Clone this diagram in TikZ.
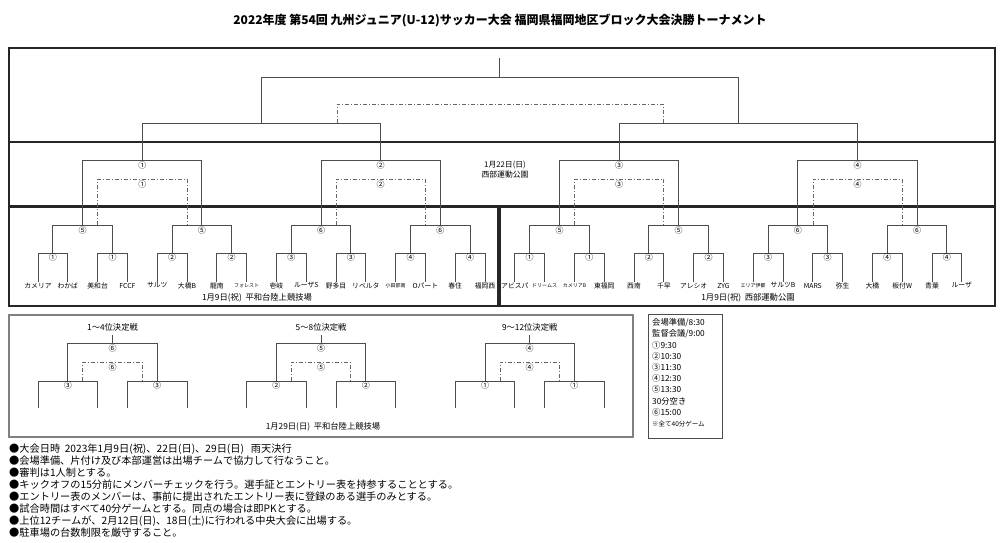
\documentclass[tikz,border=0pt]{standalone}
\usepackage{fontspec}
\setmainfont{Noto Sans CJK JP}
\newcommand\teamsm{\fontsize{5}{6}\selectfont}
\begin{document}
\begin{tikzpicture}[x=1pt,y=-1pt,
    brk/.style={draw=black!70,line width=0.9pt},
    dd/.style={draw=black!60,line width=0.8pt,dash pattern=on 4pt off 2pt on 1pt off 2pt},
    frm/.style={draw=black!85,line width=1.6pt},
    num/.style={font=\fontsize{8}{9}\selectfont,inner sep=0pt},
    team/.style={font=\fontsize{6.8}{7}\selectfont,inner sep=0pt},
    venue/.style={font=\fontsize{8.3}{9}\selectfont,inner sep=0pt}]
    \useasboundingbox (0,0) rectangle (1000,542);
    \node[font=\bfseries\fontsize{12}{14}\selectfont] (title) at (500,20)
        {2022年度 第54回 九州ジュニア(U-12)サッカー大会 福岡県福岡地区ブロック大会決勝トーナメント};
    % frames
    \draw[frm] (9,48) rectangle (995,206);
    \draw[frm] (9,142) -- (995,142);
    \draw[frm] (9,207) rectangle (498,306);
    \draw[frm] (500,207) rectangle (995,306);
    \node[venue,align=center,font=\fontsize{7.8}{9}\selectfont] (day2) at (505,169.5) {1月22日(日)\\[1pt]西部運動公園};
    % first round
    \foreach \k/\n in {0/①,1/①,2/②,3/②,4/③,5/③,6/④,7/④,8/①,9/①,10/②,11/②,12/③,13/③,14/④,15/④}{
      \pgfmathsetmacro\xa{38+59.6*\k}
      \pgfmathsetmacro\xb{\xa+29.8}
      \draw[brk] (\xa,282) |- (\xb,253) -- (\xb,282);
      \node[num] (ra\k) at ({\xa+14.9},257.5) {\n};
    }
    % second round
    \foreach \k/\n in {0/⑤,1/⑤,2/⑥,3/⑥,4/⑤,5/⑤,6/⑥,7/⑥}{
      \pgfmathsetmacro\xa{52.9+119.2*\k}
      \pgfmathsetmacro\xb{\xa+59.6}
      \draw[brk] (\xa,253) |- (\xb,225) -- (\xb,253);
      \node[num] (rb\k) at ({\xa+29.8},230) {\n};
    }
    % third round with the dashed loser bracket
    \foreach \k/\n in {0/①,1/②,2/③,3/④}{
      \pgfmathsetmacro\xa{82.7+238.4*\k}
      \pgfmathsetmacro\xb{\xa+119.2}
      \draw[brk] (\xa,225) |- (\xb,160) -- (\xb,225);
      \draw[dd] ({\xa+15},225) |- ({\xb-15},179) -- ({\xb-15},225);
      \node[num] (rc\k) at ({\xa+59.6},165) {\n};
      \node[num] (rd\k) at ({\xa+59.6},184) {\n};
    }
    \foreach \k in {0,1}{
      \pgfmathsetmacro\xa{142.3+476.8*\k}
      \pgfmathsetmacro\xb{\xa+238.4}
      \draw[brk] (\xa,160) |- (\xb,123) -- (\xb,160);
    }
    \draw[brk] (261.5,123) |- (738.3,77) -- (738.3,123);
    \draw[brk] (499.9,58) -- (499.9,77);
    \draw[dd] (337,123) |- (663,104) -- (663,123);
    % teams
    \foreach \i/\t in {0/カメリア,1/わかば,2/美和台,3/FCCF,4/サルツ,5/大橋B,6/龍南,7/{\teamsm フォレスト},
        8/壱岐,9/ルーザS,10/野多目,11/リベルタ,12/{\teamsm 小田部南},13/Oパート,14/春住,15/福岡西,
        16/アビスパ,17/{\teamsm ドリームス},18/{\teamsm カメリアB},19/東福岡,20/西南,21/千早,22/アレシオ,23/ZYG,
        24/{\teamsm エリア伊都},25/サルツB,26/MARS,27/弥生,28/大橋,29/板付W,30/青葉,31/ルーザ}{
      \node[team] (t\i) at ({38+29.8*\i},285.5) {\t};
    }
    \node[venue] (v1) at (257,297.5) {1月9日(祝)\ \ 平和台陸上競技場};
    \node[venue] (v2) at (748,297.5) {1月9日(祝)\ \ 西部運動公園};
    % placing matches
    \draw[draw=black!50,line width=1.8pt] (9,315) rectangle (633,437);
    \foreach \j/\t/\p/\q in {0/1〜4位決定戦/③/⑥,1/5〜8位決定戦/②/⑤,2/9〜12位決定戦/①/④}{
      \pgfmathsetmacro\xa{38+208.6*\j}
      \draw[brk] (\xa,408) |- ({\xa+59.6},381) -- ({\xa+59.6},408);
      \draw[brk] ({\xa+89.4},408) |- ({\xa+149},381) -- ({\xa+149},408);
      \draw[brk] ({\xa+29.8},381) |- ({\xa+119.2},343) -- ({\xa+119.2},381);
      \draw[brk] ({\xa+74.5},335) -- ({\xa+74.5},343);
      \draw[dd] ({\xa+44.8},381) |- ({\xa+104.2},362) -- ({\xa+104.2},381);
      \node[venue] (pt\j) at ({\xa+74.5},327) {\t};
      \node[num] (pa\j) at ({\xa+74.5},348.5) {\q};
      \node[num] (pb\j) at ({\xa+74.5},367) {\q};
      \node[num] (pl\j) at ({\xa+29.8},385.5) {\p};
      \node[num] (pr\j) at ({\xa+119.2},385.5) {\p};
    }
    \node[venue] (v3) at (323,427) {1月29日(日)\ \ 平和台陸上競技場};
    % schedule
    \draw[draw=black!70,line width=0.8pt] (648,314) rectangle (722,438);
    \node[anchor=north west,align=left,inner sep=0pt,font=\fontsize{8.3}{11.2}\selectfont] (sched) at (652,318.5)
        {会場準備/8:30\\監督会議/9:00\\①9:30\\②10:30\\③11:30\\④12:30\\⑤13:30\\30分空き\\⑥15:00\\{\fontsize{6.5}{7}\selectfont ※全て40分ゲーム}};
    % notes
    \node[anchor=north west,align=left,inner sep=0pt,font=\fontsize{10.2}{12}\selectfont] (notes) at (9,443.5)
        {●大会日時\ \ 2023年1月9日(祝)、22日(日)、29日(日)\ \ \ 雨天決行\\
         ●会場準備、片付け及び本部運営は出場チームで協力して行なうこと。\\
         ●審判は1人制とする。\\
         ●キックオフの15分前にメンバーチェックを行う。選手証とエントリー表を持参することとする。\\
         ●エントリー表のメンバーは、事前に提出されたエントリー表に登録のある選手のみとする。\\
         ●試合時間はすべて40分ゲームとする。同点の場合は即PKとする。\\
         ●上位12チームが、2月12日(日)、18日(土)に行われる中央大会に出場する。\\
         ●駐車場の台数制限を厳守すること。};
\end{tikzpicture}
\end{document}
